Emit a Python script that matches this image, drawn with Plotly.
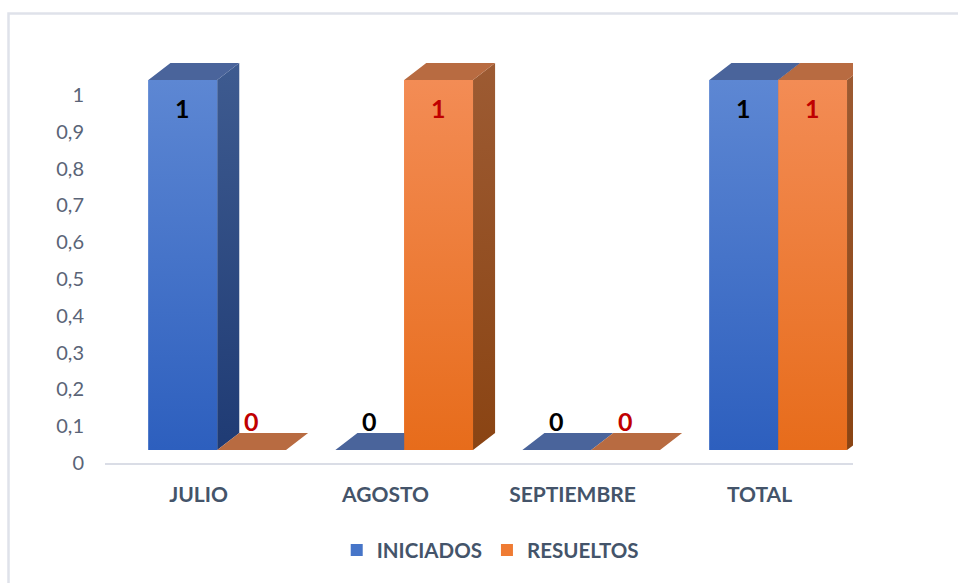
import plotly.graph_objects as go

categories = ["JULIO", "AGOSTO", "SEPTIEMBRE", "TOTAL"]
iniciados = [1, 0, 0, 1]
resueltos = [0, 1, 0, 1]
y_tick_vals = [0, 0.1, 0.2, 0.3, 0.4, 0.5, 0.6, 0.7, 0.8, 0.9, 1]
y_tick_text = ["0", "0,1", "0,2", "0,3", "0,4", "0,5", "0,6", "0,7", "0,8", "0,9", "1"]

BAR_W = 0.368     # width of one series' front face (x units)
DX = 0.118        # 3D depth offset in x units
DY = 0.046        # 3D depth offset in y units
AX_B = -13 / 370  # back-wall value axis: position of its 0 on the bar scale
AX_S = 368 / 370  # back-wall value axis: scale relative to the bar scale
FONT = "Lato"
TXT = "#44546A"

series = [
    dict(name="INICIADOS", values=iniciados, side=-1, legend="#4675c8",
         front=["#2d5fbe", "#5d87d3"], sidec=["#1f3b74", "#3e5b90"], top="#4a649b",
         label="#000000"),
    dict(name="RESUELTOS", values=resueltos, side=1, legend="#ef7b33",
         front=["#e76c1b", "#f38c55"], sidec=["#8a4413", "#9d5b33"], top="#b86b41",
         label="#C00000"),
]

fig = go.Figure()

# real bars (front faces)
for s in series:
    fig.add_trace(go.Bar(
        x=list(range(len(categories))), y=s["values"], name=s["name"],
        marker=dict(color=s["legend"], line=dict(width=0)),
        hoverinfo="skip",
    ))

# 3D faces computed from the values
for s in series:
    side_x, side_y, top_x, top_y, fr_x, fr_y = [], [], [], [], [], []
    for i, v in enumerate(s["values"]):
        x0 = i if s["side"] > 0 else i - BAR_W
        x1 = x0 + BAR_W
        if v > 0:
            side_x += [x1, x1 + DX, x1 + DX, x1, x1, None]
            side_y += [0, DY, v + DY, v, 0, None]
            fr_x += [x0, x1, x1, x0, x0, None]
            fr_y += [0, 0, v, v, 0, None]
        top_x += [x0, x1, x1 + DX, x0 + DX, x0, None]
        top_y += [v, v, v + DY, v + DY, v, None]
    if side_x:
        fig.add_trace(go.Scatter(
            x=side_x, y=side_y, mode="lines", line=dict(width=0),
            fill="toself", fillgradient=dict(type="vertical",
                                             colorscale=[[0, s["sidec"][0]], [1, s["sidec"][1]]]),
            showlegend=False, hoverinfo="skip"))
    fig.add_trace(go.Scatter(
        x=top_x, y=top_y, mode="lines", line=dict(width=0),
        fill="toself", fillcolor=s["top"], showlegend=False, hoverinfo="skip"))
    if fr_x:
        fig.add_trace(go.Scatter(
            x=fr_x, y=fr_y, mode="lines", line=dict(width=0),
            fill="toself", fillgradient=dict(type="vertical",
                                             colorscale=[[0, s["front"][0]], [1, s["front"][1]]]),
            showlegend=False, hoverinfo="skip"))

# data labels
for s in series:
    for i, v in enumerate(s["values"]):
        xc = i + s["side"] * BAR_W / 2
        fig.add_annotation(
            x=xc, y=v, xref="x", yref="y", text=str(v), showarrow=False,
            yanchor="middle", yshift=(-28 if v > 0 else 29),
            font=dict(family=FONT, size=25, color=s["label"], weight="bold"))

# chart frame
fig.add_shape(type="rect", xref="paper", yref="paper",
              x0=-0.129, x1=2, y0=-2, y1=1.0626,
              line=dict(color="#dfe2ea", width=2.5), fillcolor="rgba(0,0,0,0)", layer="below")

fig.update_layout(
    width=958, height=583,
    margin=dict(l=105, r=105, t=40, b=120),
    paper_bgcolor="white", plot_bgcolor="white",
    barmode="group", bargap=0.264, bargroupgap=0,
    showlegend=True,
    legend=dict(orientation="h", x=0.515, xanchor="center", y=-0.206, yanchor="middle",
                font=dict(family=FONT, size=20.5, color=TXT, weight="bold"),
                itemwidth=30, traceorder="normal"),
    xaxis=dict(range=[-0.6, 3.4], tickmode="array",
               tickvals=[i - 0.1 for i in range(len(categories))], ticktext=categories,
               showgrid=False, zeroline=False, showline=True, linecolor="#dadde6", linewidth=2,
               ticks="", ticklabelstandoff=12,
               tickfont=dict(family=FONT, size=21, color=TXT, weight="bold")),
    yaxis=dict(range=[AX_B, 1.10811], tickmode="array",
               tickvals=[AX_B + v * AX_S for v in y_tick_vals], ticktext=y_tick_text,
               showgrid=False, zeroline=False, showline=False, ticks="", ticklabelstandoff=20,
               tickfont=dict(family=FONT, size=20, color="#5a6477")),
)

fig.write_html("out.html", config={"displayModeBar": False},
               post_script="document.body.style.margin='0';document.body.style.overflow='hidden';")
